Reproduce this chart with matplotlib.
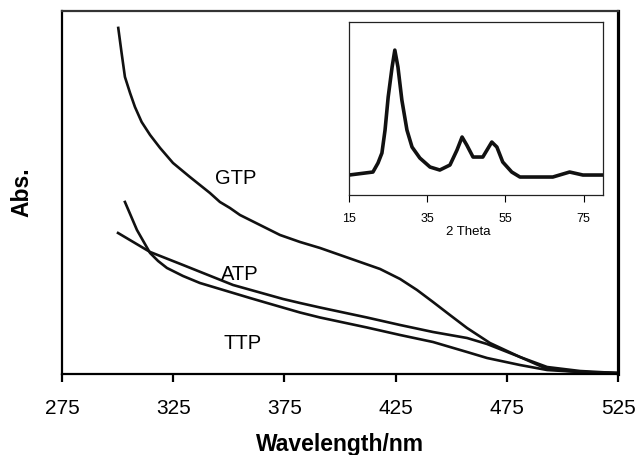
import matplotlib
matplotlib.use("Agg")
from matplotlib import pyplot as plt

plt.rcParams['font.family'] = ['Liberation Sans', 'DejaVu Sans']

#
# - UV-vis absorbance data (arbitrary units)
#

gtp_wl = [300.3, 301.8, 303.3, 305.6, 307.8, 310.8, 314.6, 319.1, 324.9, 332.5, 337.0, 341.5,
          346.0, 350.5, 355.0, 364.0, 373.0, 382.0, 391.0, 400.0, 409.0, 418.0, 427.0, 434.6,
          441.8, 449.4, 457.1, 467.4, 480.9, 493.1, 507.9, 524.5]
gtp_abs = [3.46, 3.21, 2.97, 2.81, 2.67, 2.52, 2.39, 2.26, 2.11, 1.97, 1.89, 1.81,
           1.72, 1.66, 1.59, 1.49, 1.39, 1.32, 1.26, 1.19, 1.12, 1.05, 0.95, 0.84,
           0.72, 0.59, 0.46, 0.31, 0.17, 0.07, 0.03, 0.01]

atp_wl = [300.2, 314.6, 329.4, 351.9, 374.4, 382.0, 391.0, 412.1, 427.0, 441.8, 457.1, 466.1,
          480.9, 493.1, 507.9, 524.5]
atp_abs = [1.41, 1.22, 1.09, 0.89, 0.75, 0.71, 0.665, 0.565, 0.49, 0.42, 0.36, 0.30,
           0.17, 0.05, 0.02, 0.01]

ttp_wl = [303.3, 308.7, 314.6, 318.2, 322.2, 329.4, 337.0, 359.5, 367.2, 382.0, 391.0, 412.1,
          427.0, 441.8, 457.1, 466.1, 480.9, 493.1, 507.9, 524.5]
ttp_abs = [1.72, 1.44, 1.21, 1.13, 1.06, 0.98, 0.91, 0.76, 0.71, 0.615, 0.565, 0.465,
           0.39, 0.32, 0.22, 0.16, 0.09, 0.04, 0.02, 0.01]

wl_ticks = [275, 325, 375, 425, 475, 525]

#
# - XRD pattern for the inset
#

xrd_theta = [15.0, 21.1, 22.4, 23.4, 24.2, 25.0, 26.0, 26.7, 27.5, 28.5, 29.8, 31.1, 33.1,
             35.7, 38.2, 40.8, 42.6, 43.9, 45.1, 46.7, 49.2, 51.5, 52.8, 54.3, 56.6, 58.7,
             67.1, 71.4, 74.8, 79.9]
xrd_int = [20, 23, 32, 42, 65, 98, 128, 145, 128, 95, 65, 48, 37,
           28, 25, 30, 45, 58, 50, 38, 38, 53, 48, 33, 23, 18,
           18, 23, 20, 20]

theta_ticks = [15, 35, 55, 75]

#
# plot
#

fig = plt.figure(figsize=(6.37, 4.55), dpi=100)
ax = fig.add_axes([0.0973, 0.178, 0.873, 0.798])

for wl, a in ((gtp_wl, gtp_abs), (atp_wl, atp_abs), (ttp_wl, ttp_abs)):
    ax.plot(wl, a, color='#111111', lw=1.9, solid_joinstyle='round')

ax.set_xlim(275, 525)
ax.set_ylim(0, 3.63)
ax.set_xticks(wl_ticks)
ax.set_yticks([])
ax.tick_params(axis='x', direction='out', length=6, width=1.6, pad=12, labelsize=15)
for side in ('left', 'bottom', 'top'):
    ax.spines[side].set_linewidth(1.6)
ax.spines['top'].set_color('#333333')
ax.spines['right'].set_linewidth(2.3)

ax.text(353, 1.95, 'GTP', fontsize=14.5, ha='center', va='center')
ax.text(355, 0.99, 'ATP', fontsize=14.5, ha='center', va='center')
ax.text(356, 0.31, 'TTP', fontsize=14.5, ha='center', va='center')

fig.text(340 / 637, 1 - 445 / 455, 'Wavelength/nm', fontsize=16.5, fontweight='bold',
         ha='center', va='center')
fig.text(22 / 637, 1 - 192 / 455, 'Abs.', fontsize=16.5, fontweight='bold',
         ha='center', va='center', rotation=90)

# inset
ins = fig.add_axes([0.548, 0.5714, 0.399, 0.380])
ins.plot(xrd_theta, xrd_int, color='#111111', lw=2.6, solid_joinstyle='round')
ins.set_xlim(15, 80)
ins.set_ylim(0, 173)
ins.set_xticks(theta_ticks)
ins.set_yticks([])
ins.tick_params(axis='x', direction='out', length=5, width=0.8, pad=8, labelsize=9)
for side in ins.spines:
    ins.spines[side].set_linewidth(0.9)
    ins.spines[side].set_color('#222222')
fig.text(468 / 637, 1 - 232 / 455, '2 Theta', fontsize=9.5, ha='center', va='center')

plt.savefig('out.png', dpi=100)
